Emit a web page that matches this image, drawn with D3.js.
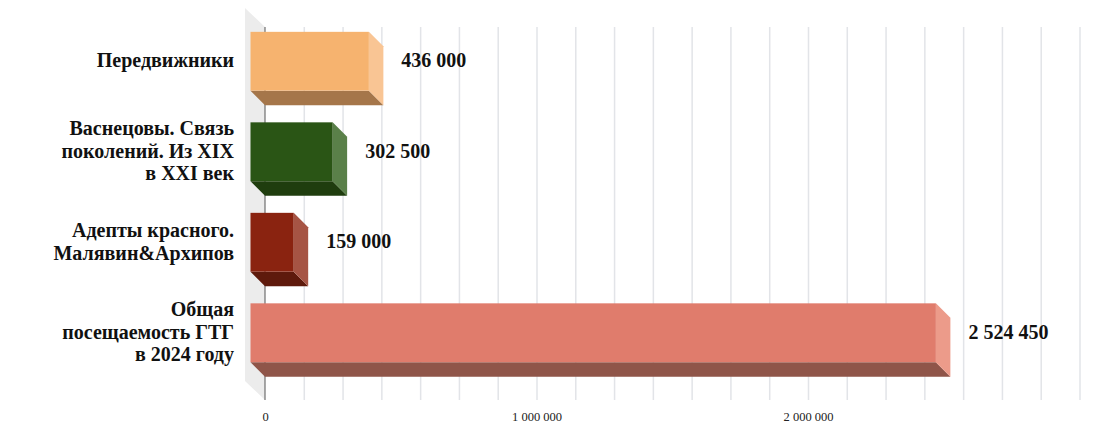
<!DOCTYPE html>
<html>
<head>
<meta charset="utf-8">
<script src="https://cdn.jsdelivr.net/npm/d3@7"></script>
<style>
  html, body { margin: 0; padding: 0; background: #fff; }
  svg { display: block; }
  text { font-family: "Liberation Serif", serif; }
</style>
</head>
<body>
<svg id="chart" width="1102" height="432"></svg>
<script>
// chart data
var categories = ["Передвижники", "Васнецовы", "Адепты", "Общая"];
var categoryLines = [
  ["Передвижники"],
  ["Васнецовы. Связь", "поколений. Из XIX", "в XXI век"],
  ["Адепты красного.", "Малявин&Архипов"],
  ["Общая", "посещаемость ГТГ", "в 2024 году"]
];
var values = [436000, 302500, 159000, 2524450];
var valueLabels = ["436 000", "302 500", "159 000", "2 524 450"];
var axisTicks = [0, 1000000, 2000000];
var axisLabels = ["0", "1 000 000", "2 000 000"];

var frontColors = ["#f6b36f", "#2a5515", "#8a2310", "#e07c6c"];
var sideColors = ["#f9c594", "#5a8049", "#a65444", "#ec9b8a"];
var bottomColors = ["#a5764a", "#1f3d0e", "#5e1a0c", "#8f5549"];

var svg = d3.select("#chart"),
    DEPTH = 14.5,
    FRONT_LEFT = 250.5,
    WALL_TOP = 8,
    WALL_BOTTOM = 381;

var xScale = d3.scaleLinear().domain([0, 3000000]).range([FRONT_LEFT, FRONT_LEFT + 814.5]);
var yScale = d3.scaleBand().domain(categories).range([16, 378]).paddingInner(0.35).paddingOuter(0.175);

// side wall of the 3d box
svg.append("polygon")
    .attr("points", [
      [FRONT_LEFT - 5.5, WALL_TOP], [FRONT_LEFT + DEPTH, WALL_TOP + 19],
      [FRONT_LEFT + DEPTH, WALL_BOTTOM + 19], [FRONT_LEFT - 5.5, WALL_BOTTOM]
    ].join(" "))
    .attr("fill", "#ececec");

// gridlines on back wall, 7 per million
var gridTicks = d3.range(1, 22).map(function (i) { return i * 1000000 / 7; });
var grid = svg.append("g")
    .attr("transform", "translate(" + DEPTH + "," + (WALL_BOTTOM + 19) + ")")
    .call(d3.axisBottom(xScale).tickValues(gridTicks).tickSize(-373).tickFormat(""));
grid.select(".domain").remove();
grid.selectAll("line").attr("stroke", "#e2e4e8").attr("stroke-width", 1.5);

// zero axis
svg.append("line")
    .attr("x1", xScale(0) + DEPTH).attr("x2", xScale(0) + DEPTH)
    .attr("y1", WALL_TOP + 19).attr("y2", WALL_BOTTOM + 19)
    .attr("stroke", "#555").attr("stroke-width", 1);

// bars
var bars = svg.selectAll("g.bar").data(categories).enter().append("g").attr("class", "bar");

bars.append("polygon")
    .attr("fill", function (d, i) { return bottomColors[i]; })
    .attr("points", function (d, i) {
      var x0 = xScale(0), x1 = xScale(values[i]), y1 = yScale(d) + yScale.bandwidth();
      return [[x0, y1], [x1, y1], [x1 + DEPTH, y1 + DEPTH], [x0 + DEPTH, y1 + DEPTH]].join(" ");
    });

bars.append("polygon")
    .attr("fill", function (d, i) { return sideColors[i]; })
    .attr("points", function (d, i) {
      var x1 = xScale(values[i]), y0 = yScale(d), y1 = y0 + yScale.bandwidth();
      return [[x1, y0], [x1 + DEPTH, y0 + DEPTH], [x1 + DEPTH, y1 + DEPTH], [x1, y1]].join(" ");
    });

bars.append("rect")
    .attr("x", xScale(0))
    .attr("y", function (d) { return yScale(d); })
    .attr("width", function (d, i) { return xScale(values[i]) - xScale(0); })
    .attr("height", yScale.bandwidth())
    .attr("fill", function (d, i) { return frontColors[i]; });

// value labels
bars.append("text")
    .attr("x", function (d, i) { return xScale(values[i]) + DEPTH + 18; })
    .attr("y", function (d) { return yScale(d) + yScale.bandwidth() / 2 + 6; })
    .attr("font-size", 20)
    .attr("font-weight", "bold")
    .attr("fill", "#111")
    .text(function (d, i) { return valueLabels[i]; });

// category labels
svg.selectAll("text.cat").data(categories).enter().append("text")
    .attr("class", "cat")
    .attr("text-anchor", "end")
    .attr("font-size", 20)
    .attr("font-weight", "bold")
    .attr("fill", "#111")
    .each(function (d, i) {
      var lines = categoryLines[i], cy = yScale(d) + yScale.bandwidth() / 2;
      d3.select(this).selectAll("tspan").data(lines).enter().append("tspan")
          .attr("x", 234)
          .attr("y", function (l, j) { return cy + 6 + (j - (lines.length - 1) / 2) * 22.7; })
          .text(function (l) { return l; });
    });

// bottom axis labels
var xAxis = svg.append("g")
    .attr("transform", "translate(" + DEPTH + ",405)")
    .call(d3.axisBottom(xScale).tickValues(axisTicks).tickSize(0).tickPadding(7)
      .tickFormat(function (d, i) { return axisLabels[i]; }));
xAxis.select(".domain").remove();
xAxis.selectAll("text")
    .attr("font-family", "Liberation Serif")
    .attr("font-size", 12.5)
    .attr("fill", "#222");
</script>
</body>
</html>
